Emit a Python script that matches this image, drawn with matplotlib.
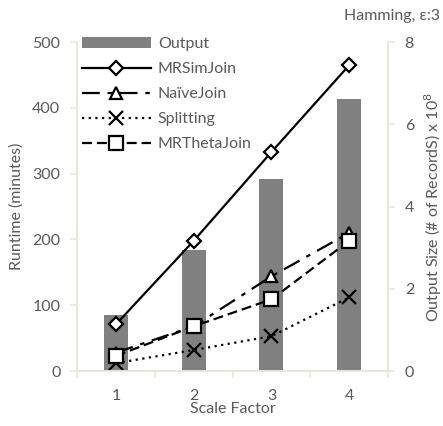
import matplotlib
matplotlib.use("Agg")
import matplotlib.pyplot as plt
from matplotlib.patches import Patch
from matplotlib.lines import Line2D

plt.rcParams['font.family'] = ['Lato', 'DejaVu Sans']

categories = ['1', '2', '3', '4']
output_size = [1.36, 2.94, 4.67, 6.62]          # x 10^8 (right axis)
mrsimjoin = [71, 198, 333, 465]
naivejoin = [28, 68, 144, 210]
splitting = [12, 32, 53, 112]
mrthetajoin = [23, 68, 109, 198]

txt = '#595959'
spine_c = '#ebe7d6'
fs = 11.5

fig = plt.figure(figsize=(4.43, 4.26), dpi=100)
ax = fig.add_axes([0.174, 0.129, 0.702, 0.772])
ax2 = ax.twinx()

x = list(range(1, len(categories) + 1))

ax2.bar(x, output_size, width=0.31, color='#808080', zorder=1)
ax2.set_ylim(0, 8)
ax2.set_yticks([0, 2, 4, 6, 8])

ax.set_zorder(ax2.get_zorder() + 1)
ax.patch.set_visible(False)

mk = dict(markerfacecolor='white', markeredgecolor='black', markeredgewidth=1.6, color='black', lw=1.6)
ls_naive = (0, (8, 3.5, 2, 3.5))
ls_split = (0, (1, 2))
ls_theta = (0, (4.5, 2.2))
ax.plot(x, mrsimjoin, linestyle='-', marker='D', markersize=7, **mk)
ax.plot(x, naivejoin, linestyle=ls_naive, marker='^', markersize=9, **mk)
ax.plot(x, splitting, linestyle=ls_split, marker='x', markersize=10, **mk)
ax.plot(x, mrthetajoin, linestyle=ls_theta, marker='s', markersize=10, **mk)

ax.set_xlim(0.5, 4.5)
ax.set_ylim(0, 500)
ax.set_yticks([0, 100, 200, 300, 400, 500])
ax.set_xticks([0.5, 1.5, 2.5, 3.5, 4.5])
ax.set_xticklabels([])
ax.set_xticks(x, minor=True)
ax.set_xticklabels(categories, minor=True)
ax.tick_params(axis='x', which='minor', length=0, pad=13, labelsize=fs, labelcolor=txt)
ax.tick_params(axis='x', which='major', length=5, color=spine_c, width=1.2)
ax.tick_params(axis='y', length=5, color=spine_c, width=1.2, labelsize=fs, labelcolor=txt, pad=7)
ax2.tick_params(axis='y', length=5, color=spine_c, width=1.2, labelsize=fs, labelcolor=txt, pad=7)

for a in (ax, ax2):
    a.spines['top'].set_visible(False)
    for s in ['left', 'right', 'bottom']:
        a.spines[s].set_color(spine_c)
        a.spines[s].set_linewidth(1.2)

ax.set_xlabel('Scale Factor', fontsize=fs, color=txt, labelpad=-1)
ax.set_ylabel('Runtime (minutes)', fontsize=fs, color=txt, labelpad=6)
ax2.set_ylabel(r'Output Size (# of RecordS) x 10$^{8}$', fontsize=fs, color=txt, labelpad=6)

fig.text(0.993, 0.962, 'Hamming, ε:3', ha='right', va='center', fontsize=fs, color=txt)

handles = [
    Patch(facecolor='#808080', edgecolor='none'),
    Line2D([], [], linestyle='-', marker='D', markersize=7, **mk),
    Line2D([], [], linestyle=ls_naive, marker='^', markersize=9, **mk),
    Line2D([], [], linestyle=ls_split, marker='x', markersize=10, **mk),
    Line2D([], [], linestyle=ls_theta, marker='s', markersize=10, **mk),
]
labels = ['Output', 'MRSimJoin', 'NaïveJoin', 'Splitting', 'MRThetaJoin']
leg = ax.legend(handles, labels, loc='upper left', bbox_to_anchor=(-0.005, 1.035), frameon=False,
                fontsize=fs, handlelength=4.3, handletextpad=0.45, labelspacing=0.68, borderaxespad=0)
for t in leg.get_texts():
    t.set_color(txt)

fig.savefig('out.png', dpi=100)
